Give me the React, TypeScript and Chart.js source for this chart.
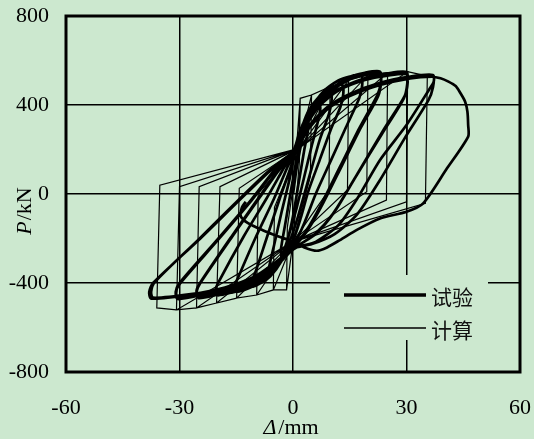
import { useEffect, useRef } from "react";
import { Chart, registerables } from "chart.js";

Chart.register(...registerables);

const BG = "#CCE8CF";

const xMin = -60;
const xMax = 60;
const xStep = 30;
const yMin = -800;
const yMax = 800;
const yStep = 400;

const seriesLabels = ["试验", "计算"];
const xTitleItalic = "Δ";
const xTitleRest = "/mm";
const yTitleItalic = "P";
const yTitleRest = "/kN";

type Pt = [number, number];

// ---- 试验 (test) curve ----
const testInit: Pt[] = [[0, 0], [1, 120], [2.5, 250], [4, 330]];
const testLoop1: Pt[] = [[4.1, 300], [3, 200], [1.5, 50], [0, -100], [-1.5, -210], [-3, -280], [-3.2, -250], [-2, -130], [-0.5, 20], [1, 160], [2.5, 270], [4.5, 360], [6, 395], [7, 410]];
const testLoop2: Pt[] = [[7.2, 380], [6.5, 320], [5, 220], [3, 80], [1, -60], [-1, -180], [-3, -280], [-6, -360], [-6.3, -330], [-5, -230], [-3, -80], [-1, 60], [0.5, 180], [2, 270], [4, 360], [6.5, 420], [8.5, 445], [10, 455]];
const testLoop3: Pt[] = [[10.2, 420], [9.5, 360], [7, 240], [5, 120], [3, 0], [1, -120], [-1, -220], [-3, -300], [-6, -370], [-8.5, -400], [-10.5, -416], [-11, -395], [-10, -355], [-7, -200], [-3.5, -20], [-1, 100], [0.5, 180], [2, 280], [4, 370], [7, 440], [10, 475], [13, 490]];
const testLoop4: Pt[] = [[13.3, 450], [12.5, 390], [10, 290], [7, 150], [4, 10], [2, -110], [0, -210], [-3, -300], [-6, -365], [-10, -410], [-15, -440], [-15.5, -415], [-14.5, -375], [-10, -200], [-5, -20], [-2, 100], [0, 180], [2, 290], [5, 390], [8, 460], [12, 510], [15, 528], [18, 535]];
const testLoop5: Pt[] = [[18.3, 490], [17.5, 430], [14, 300], [10, 150], [6, 0], [3, -130], [0.5, -220], [-3, -300], [-7, -370], [-12, -420], [-16, -442], [-20, -455], [-20.5, -430], [-19.5, -390], [-13, -190], [-7, -20], [-3, 100], [0, 190], [2.5, 300], [6, 400], [10, 470], [15, 525], [19, 545], [23, 550]];
const testLoop6: Pt[] = [[23.3, 505], [22.5, 440], [18, 300], [13, 130], [8, -40], [4, -160], [1, -225], [-3, -300], [-8, -375], [-14, -425], [-20, -452], [-25, -468], [-25.5, -440], [-24.5, -400], [-16, -190], [-9, -20], [-4, 100], [0, 190], [2.5, 295], [6, 390], [10, 460], [15, 515], [19, 535], [23, 540]];
const testLoop7: Pt[] = [[23.2, 500], [22.3, 445], [17.5, 295], [12.5, 125], [7.5, -45], [3.5, -165], [0.5, -230], [-3.5, -305], [-8.5, -375], [-14.5, -422], [-20, -448], [-25, -462], [-25.5, -435], [-24.5, -398], [-16, -185], [-9, -15], [-4, 105], [0, 190], [3, 300], [7, 400], [12, 470], [19, 520], [25, 542], [30, 548]];
const testLoop8: Pt[] = [[30.3, 500], [29.5, 440], [24, 290], [17, 90], [11, -80], [6, -180], [1.5, -230], [-3.5, -300], [-9, -370], [-16, -420], [-23, -450], [-30.5, -472], [-31, -445], [-30, -405], [-20, -210], [-11, -30], [-5, 100], [0, 190], [3, 295], [7, 395], [12, 465], [19, 512], [25, 532], [30, 538]];
const testLoop9: Pt[] = [[30.2, 495], [29.3, 430], [23.5, 270], [16.5, 75], [10.5, -90], [5.5, -185], [1, -235], [-4, -305], [-9.5, -372], [-16.5, -423], [-23.5, -452], [-30.5, -465], [-31, -440], [-30, -400], [-20, -205], [-11, -25], [-5, 105], [0, 190], [4, 300], [9, 390], [15, 450], [23, 500], [31, 528], [37, 535]];
const testLoop10: Pt[] = [[37.2, 505], [36, 470], [30, 310], [23, 153], [17, -20], [12, -140], [6, -215], [1, -240], [-4, -300], [-10, -370], [-18, -420], [-27, -450], [-37, -466], [-37.5, -440], [-36.5, -395], [-25, -205], [-14, -20], [-6, 110], [0, 190], [4, 295], [9, 385], [15, 445], [23, 495], [31, 522], [37, 528]];
const testLoop11: Pt[] = [[37, 480], [35.8, 422], [29.5, 250], [23, 63], [17, -90], [11, -180], [5, -225], [0, -245], [-4.5, -305], [-10.5, -375], [-18.5, -425], [-27.5, -455], [-37.5, -470], [-38, -440], [-37, -400], [-25, -208], [-14, -25], [-6, 105], [0, 185], [4, 290], [9, 380], [15, 440], [23, 490], [31, 520], [36.7, 527]];
const testFinal: Pt[] = [[39, 520], [41.1, 505], [43, 485], [44.2, 455], [45.5, 415], [46.1, 370], [46.3, 310], [46.3, 258], [40.5, 110], [34.4, -42], [30, -80], [23, -110], [17, -160], [12.4, -207], [9, -240], [6.3, -255], [3, -240], [0, -214], [-4, -190], [-8, -163], [-12, -130], [-13.8, -100], [-13.5, -60], [-12.5, -35]];

// ---- 计算 (calculated) curve ----
const calcStart: Pt[] = [[0, 0], [1.9, 430]];
const calcLoop1: Pt[] = [[1.7, 150], [0, -214], [-1.7, -431], [-1.5, -150], [1.5, 205]];
const calcLoop2: Pt[] = [[1.9, 430], [4.9, 445], [4.6, 80], [0, -214], [-1.7, -431], [-5.2, -431], [-4.9, -60], [1.5, 205]];
const calcLoop3: Pt[] = [[4.9, 445], [9.8, 482], [9.5, 18], [0, -214], [-5.2, -431], [-9.6, -454], [-9.2, 3], [1.5, 205]];
const calcLoop4: Pt[] = [[9.8, 482], [14.7, 512], [14.4, 18], [0, -214], [-9.6, -454], [-14.9, -468], [-14.2, 26], [1.5, 205]];
const calcLoop5: Pt[] = [[14.7, 512], [19.8, 535], [19.5, 10], [0, -214], [-14.9, -468], [-20.2, -490], [-19.3, 33], [1.5, 205]];
const calcLoop6: Pt[] = [[19.8, 535], [25, 545], [24.7, -27], [0, -214], [-20.2, -490], [-25.5, -512], [-24.8, 33], [1.5, 205]];
const calcLoop7: Pt[] = [[25, 545], [30.3, 550], [30, -35], [0, -214], [-25.5, -512], [-30.8, -521], [-30, 33], [1.5, 205]];
const calcLoop8: Pt[] = [[30.3, 550], [35.5, 530], [35, -42], [0, -214], [-30.8, -521], [-36, -512], [-35.2, 40], [1.5, 205]];

const testCurve: Pt[] = [
  ...testInit, ...testLoop1, ...testLoop2, ...testLoop3, ...testLoop4, ...testLoop5,
  ...testLoop6, ...testLoop7, ...testLoop8, ...testLoop9, ...testLoop10, ...testLoop11, ...testFinal,
];
const calcCurve: Pt[] = [
  ...calcStart, ...calcLoop1, ...calcLoop2, ...calcLoop3, ...calcLoop4,
  ...calcLoop5, ...calcLoop6, ...calcLoop7, ...calcLoop8,
];

const SERIF = "'Liberation Serif', 'Times New Roman', serif";
const CJK = "'Noto Sans CJK SC', 'Noto Sans', sans-serif";

const decorPlugin = {
  id: "decor",
  beforeDatasetsDraw(chart: any) {
    const { ctx, chartArea: a } = chart;
    // legend box background (hides grid lines behind it)
    ctx.save();
    ctx.fillStyle = BG;
    ctx.fillRect(a.left + 264, a.top + 259, 158, 65);
    ctx.restore();
  },
  afterDatasetsDraw(chart: any) {
    const { ctx, chartArea: a } = chart;
    ctx.save();
    // frame
    ctx.strokeStyle = "#000";
    ctx.lineWidth = 3;
    ctx.strokeRect(a.left, a.top, a.right - a.left, a.bottom - a.top);

    // legend
    const lx0 = a.left + 278;
    const lx1 = a.left + 360;
    const rows = [
      { y: a.top + 279, w: 3.5, label: chart.data.datasets[0].label },
      { y: a.top + 312, w: 1.5, label: chart.data.datasets[1].label },
    ];
    ctx.fillStyle = "#111";
    ctx.font = `21px ${CJK}`;
    ctx.textBaseline = "middle";
    ctx.textAlign = "left";
    rows.forEach((r) => {
      ctx.beginPath();
      ctx.lineWidth = r.w;
      ctx.moveTo(lx0, r.y);
      ctx.lineTo(lx1, r.y);
      ctx.stroke();
      ctx.fillText(r.label, lx1 + 5, r.y + 2);
    });

    // x title
    ctx.fillStyle = "#000";
    ctx.textBaseline = "alphabetic";
    const fi = `italic 22px ${SERIF}`;
    const fr = `22px ${SERIF}`;
    ctx.font = fi;
    const w1 = ctx.measureText(xTitleItalic).width;
    ctx.font = fr;
    const w2 = ctx.measureText(xTitleRest).width;
    const cx = (a.left + a.right) / 2 - 2;
    const xs = cx - (w1 + w2 + 2) / 2;
    const baseY = 434;
    ctx.font = fi;
    ctx.fillText(xTitleItalic, xs, baseY);
    ctx.font = fr;
    ctx.fillText(xTitleRest, xs + w1 + 2, baseY);

    // y title (rotated)
    ctx.translate(31, 211);
    ctx.rotate(-Math.PI / 2);
    ctx.font = fi;
    const v1 = ctx.measureText(yTitleItalic).width;
    ctx.font = fr;
    const v2 = ctx.measureText(yTitleRest).width;
    const ys = -(v1 + v2 + 1) / 2;
    ctx.font = fi;
    ctx.fillText(yTitleItalic, ys, 0);
    ctx.font = fr;
    ctx.fillText(yTitleRest, ys + v1 + 1, 0);
    ctx.restore();
  },
};

export default function App() {
  const ref = useRef<HTMLCanvasElement | null>(null);

  useEffect(() => {
    document.body.style.margin = "0";
    document.body.style.background = BG;
    const canvas = ref.current;
    if (!canvas) return;
    const hideEdge = (lo: number, hi: number) => (c: any) =>
      c.tick && (c.tick.value === lo || c.tick.value === hi) ? "rgba(0,0,0,0)" : "#000";

    const chart = new Chart(canvas, {
      type: "scatter",
      data: {
        datasets: [
          {
            label: seriesLabels[0],
            data: testCurve.map(([x, y]) => ({ x, y })),
            showLine: true,
            borderColor: "#000",
            borderWidth: 2.7,
            tension: 0.25,
            pointRadius: 0,
            fill: false,
          },
          {
            label: seriesLabels[1],
            data: calcCurve.map(([x, y]) => ({ x, y })),
            showLine: true,
            borderColor: "#000",
            borderWidth: 1.2,
            tension: 0,
            pointRadius: 0,
            fill: false,
          },
        ],
      },
      options: {
        animation: false,
        responsive: false,
        devicePixelRatio: 1,
        layout: { padding: { top: 16, right: 14, left: 0, bottom: 0 } },
        plugins: { legend: { display: false }, tooltip: { enabled: false } },
        scales: {
          x: {
            type: "linear",
            min: xMin,
            max: xMax,
            ticks: {
              stepSize: xStep,
              padding: 23,
              color: "#000",
              font: { family: SERIF, size: 22 },
              callback: (v: any) => String(v),
            },
            grid: { color: hideEdge(xMin, xMax), lineWidth: 1.5, drawTicks: false },
            border: { display: false },
            afterFit: (s: any) => {
              s.height = 67;
              s.paddingLeft = 0;
              s.paddingRight = 0;
            },
          },
          y: {
            type: "linear",
            min: yMin,
            max: yMax,
            ticks: {
              stepSize: yStep,
              padding: 17,
              color: "#000",
              font: { family: SERIF, size: 22 },
              callback: (v: any) => String(v),
            },
            grid: { color: hideEdge(yMin, yMax), lineWidth: 1.5, drawTicks: false },
            border: { display: false },
            afterFit: (s: any) => {
              s.width = 66;
              s.paddingTop = 0;
              s.paddingBottom = 0;
            },
          },
        },
      },
      plugins: [decorPlugin],
    } as any);
    return () => chart.destroy();
  }, []);

  return (
    <div style={{ width: 534, height: 439, background: BG }}>
      <canvas ref={ref} width={534} height={439} style={{ display: "block" }} />
    </div>
  );
}
